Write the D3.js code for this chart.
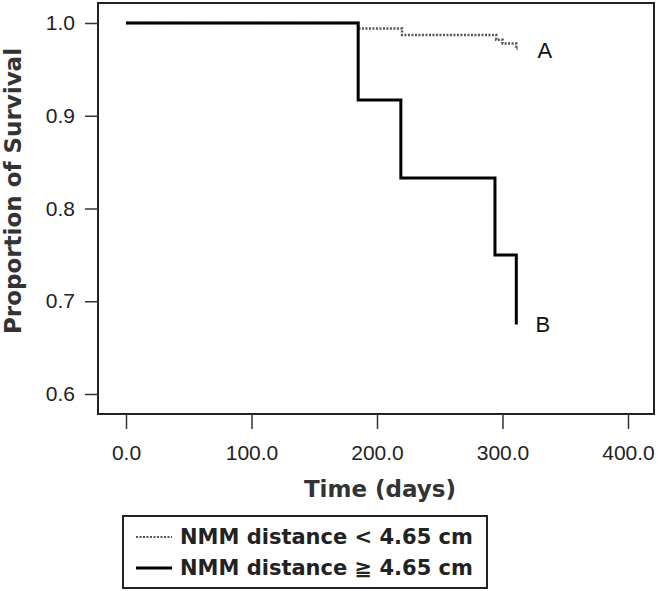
<!DOCTYPE html>
<html>
<head>
<meta charset="utf-8">
<script src="https://cdn.jsdelivr.net/npm/d3@7"></script>
<style>
  html, body { margin: 0; padding: 0; background: #fff; }
  svg { display: block; }
</style>
</head>
<body>
<svg id="chart" width="660" height="591"></svg>
<script>
// ---- data ----
const timesA = [0, 185, 220, 295, 300, 311];
const survA  = [1.0, 0.994, 0.987, 0.982, 0.978, 0.972];
const timesB = [0, 185, 219, 294, 311];
const survB  = [1.0, 0.917, 0.833, 0.750, 0.675];
const endA = 312;
const xTicks = [0, 100, 200, 300, 400];
const yTicks = [0.6, 0.7, 0.8, 0.9, 1.0];
const legendLabels = ["NMM distance < 4.65 cm", "NMM distance \u2267 4.65 cm"];
const curveLabels = ["A", "B"];

const svg = d3.select("#chart");
const x = d3.scaleLinear().domain([0, 400]).range([126, 628]);
const y = d3.scaleLinear().domain([0.6, 1.0]).range([394, 23]);

// plot frame
const box = {l: 98, t: 3, r: 654, b: 414};
svg.append("rect")
  .attr("x", box.l).attr("y", box.t)
  .attr("width", box.r - box.l).attr("height", box.b - box.t)
  .attr("fill", "none").attr("stroke", "#222").attr("stroke-width", 2);

const tickFont = "'Liberation Sans', Arial, sans-serif";

// x axis
const xAxis = svg.append("g").attr("transform", `translate(0,${box.b})`)
  .call(d3.axisBottom(x).tickValues(xTicks).tickFormat(d3.format(".1f")).tickSize(15).tickPadding(16));
xAxis.select(".domain").remove();
xAxis.attr("font-family", tickFont).attr("font-size", 21);
xAxis.selectAll("line").attr("stroke", "#333").attr("stroke-width", 1.5);
xAxis.selectAll("text").attr("fill", "#222");

// y axis
const yAxis = svg.append("g").attr("transform", `translate(${box.l},0)`)
  .call(d3.axisLeft(y).tickValues(yTicks).tickFormat(d3.format(".1f")).tickSize(13).tickPadding(10));
yAxis.select(".domain").remove();
yAxis.attr("font-family", tickFont).attr("font-size", 21);
yAxis.selectAll("line").attr("stroke", "#333").attr("stroke-width", 1.5);
yAxis.selectAll("text").attr("fill", "#222");

// axis titles
svg.append("text")
  .attr("x", 380).attr("y", 497)
  .attr("text-anchor", "middle")
  .attr("font-family", "'DejaVu Sans', Verdana, sans-serif")
  .attr("font-weight", "bold").attr("font-size", 23).attr("fill", "#333")
  .text("Time (days)");
svg.append("text")
  .attr("transform", "translate(21,191) rotate(-90)")
  .attr("text-anchor", "middle")
  .attr("font-family", "'DejaVu Sans', Verdana, sans-serif")
  .attr("font-weight", "bold").attr("font-size", 23).attr("fill", "#333")
  .text("Proportion of Survival");

// step curves
function stepData(times, surv, end) {
  const pts = times.map((t, i) => [t, surv[i]]);
  pts.push([end, surv[surv.length - 1]]);
  return pts;
}
const line = d3.line().x(d => x(d[0])).y(d => y(d[1])).curve(d3.curveStepAfter);

svg.append("path")
  .attr("d", line(stepData(timesA, survA, endA)))
  .attr("fill", "none").attr("stroke", "#555").attr("stroke-width", 2.5)
  .attr("stroke-dasharray", "2,1.5");

const bPts = timesB.map((t, i) => [t, survB[i]]);
svg.append("path")
  .attr("d", line(bPts))
  .attr("fill", "none").attr("stroke", "#000").attr("stroke-width", 3);

// curve labels
svg.append("text").attr("x", x(endA) + 20).attr("y", 58)
  .attr("font-family", tickFont).attr("font-size", 22).attr("fill", "#111")
  .text(curveLabels[0]);
svg.append("text").attr("x", x(endA) + 18).attr("y", 332)
  .attr("font-family", tickFont).attr("font-size", 22).attr("fill", "#111")
  .text(curveLabels[1]);

// legend
const lg = svg.append("g");
lg.append("rect").attr("x", 123).attr("y", 516).attr("width", 364).attr("height", 72)
  .attr("fill", "#fff").attr("stroke", "#222").attr("stroke-width", 2);
const rows = [
  {y: 537, dash: "2,1.5", color: "#555", w: 2},
  {y: 568, dash: null, color: "#000", w: 3}
];
rows.forEach((r, i) => {
  const ln = lg.append("line").attr("x1", 136).attr("x2", 172).attr("y1", r.y).attr("y2", r.y)
    .attr("stroke", r.color).attr("stroke-width", r.w);
  if (r.dash) ln.attr("stroke-dasharray", r.dash);
  lg.append("text").attr("x", 180).attr("y", r.y + 7)
    .attr("font-family", "'DejaVu Sans', Verdana, sans-serif")
    .attr("font-weight", "bold").attr("font-size", 21).attr("fill", "#222")
    .text(legendLabels[i]);
});
</script>
</body>
</html>
